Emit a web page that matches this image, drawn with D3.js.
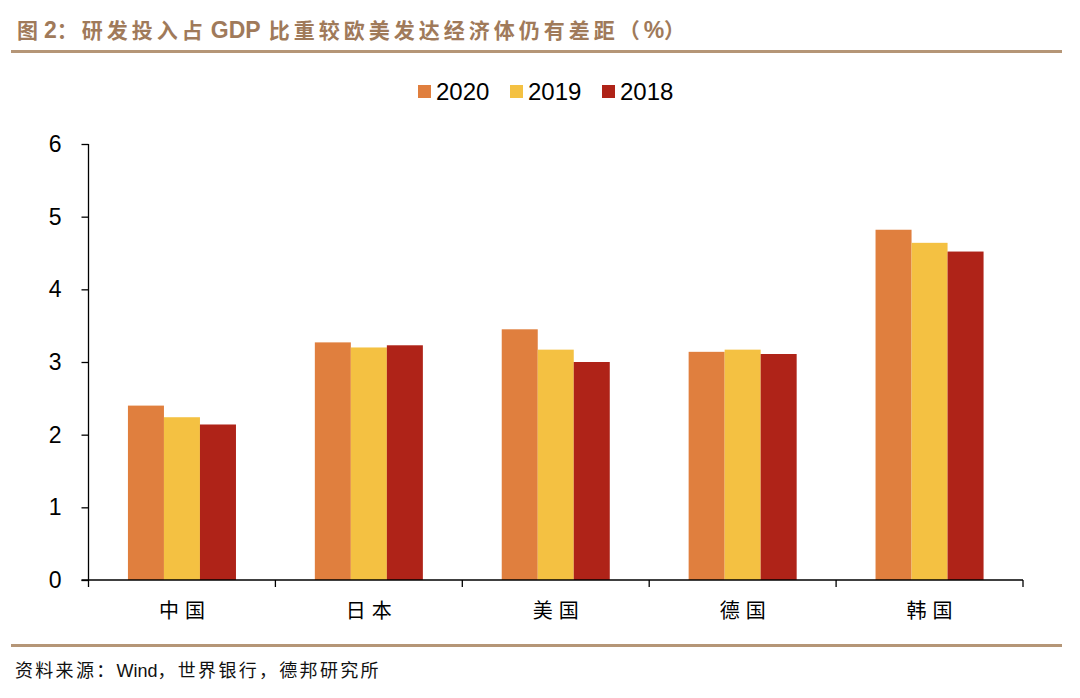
<!DOCTYPE html>
<html><head><meta charset="utf-8">
<script src="https://cdn.jsdelivr.net/npm/d3@7"></script>
<style>body{margin:0;background:#fff}svg{display:block}</style>
</head><body><svg id="c" width="1080" height="698"></svg>
<script>
const categories = ["中国","日本","美国","德国","韩国"];
const seriesNames = ["2020","2019","2018"];
const v2020 = [2.40, 3.27, 3.45, 3.14, 4.82];
const v2019 = [2.24, 3.20, 3.17, 3.17, 4.64];
const v2018 = [2.14, 3.23, 3.00, 3.11, 4.52];
const yTicks = [0,1,2,3,4,5,6];
const colors = ["#E07F3E","#F4C142","#AF2318"];
const series = [v2020, v2019, v2018];

(function(){
const svg = d3.select("#c");
const cjk = "'Noto Sans CJK SC', sans-serif";
const lat = "'Liberation Sans', Arial, sans-serif";

function segText(x, yy, segs, fill, weight){
  const t = svg.append("text").attr("x",x).attr("y",yy).attr("fill",fill).attr("font-weight",weight);
  segs.forEach(s=>{
    t.append("tspan").attr("font-family", s.l ? lat : cjk).attr("font-size", s.fs)
      .attr("letter-spacing", s.ls).attr("dx", s.dx||0).text(s.t);
  });
}
// title
segText(17, 38, [
  {t:"图", fs:21, ls:4},
  {t:"2", fs:23, ls:0, l:1, dx:2},
  {t:"：研发投入占", fs:21, ls:4},
  {t:"GDP", fs:23, ls:0, l:1, dx:4},
  {t:"比重较欧美发达经济体仍有差距（", fs:21, ls:4, dx:8},
  {t:"%", fs:23, ls:0, l:1},
  {t:"）", fs:21, ls:4}
], "#A07A5A", "bold");
svg.append("rect").attr("x",11).attr("y",50).attr("width",1051).attr("height",3).attr("fill","#B59677");
svg.append("rect").attr("x",11).attr("y",644).attr("width",1051).attr("height",3).attr("fill","#B59677");
segText(15, 677, [
  {t:"资料来源：", fs:18, ls:2.3},
  {t:"Wind", fs:18, ls:0, l:1},
  {t:"，世界银行，德邦研究所", fs:18, ls:2.3}
], "#111", "normal");

const pL = 88.5, pR = 1023, pT = 144, pB = 580;
const y = d3.scaleLinear().domain([0,6]).range([pB, pT]);
const x0 = d3.scaleBand().domain(categories).range([pL,pR]).paddingInner(0.422).paddingOuter(0.211);
const x1 = d3.scaleBand().domain(seriesNames).range([0, x0.bandwidth()]);

// bars
const g = svg.append("g");
seriesNames.forEach((s,si)=>{
  g.selectAll(".b"+si).data(categories).enter().append("rect")
    .attr("x", c=> x0(c)+x1(s))
    .attr("y", (c,i)=> y(series[si][i]))
    .attr("width", x1.bandwidth())
    .attr("height", (c,i)=> pB - y(series[si][i]))
    .attr("fill", colors[si]);
});

// y axis
const ya = svg.append("g").attr("transform",`translate(${pL},0)`)
  .call(d3.axisLeft(y).tickValues(yTicks).tickSize(7).tickPadding(20).tickFormat(d3.format("d")));
ya.select(".domain").attr("stroke","#000").attr("stroke-width",1.3).attr("d",`M0,${pT}V${pB}`);
ya.selectAll(".tick line").attr("stroke","#000").attr("stroke-width",1.3);
ya.selectAll(".tick text").attr("font-family",lat).attr("font-size",23).attr("fill","#000");

// x axis
const step = x0.step();
const bounds = d3.range(categories.length+1).map(i=> pL + i*step);
svg.append("line").attr("x1",pL-7).attr("x2",pR).attr("y1",pB).attr("y2",pB)
  .attr("stroke","#000").attr("stroke-width",1.3);
svg.selectAll(".xt").data(bounds).enter().append("line")
  .attr("x1",d=>d).attr("x2",d=>d).attr("y1",pB).attr("y2",pB+7)
  .attr("stroke","#000").attr("stroke-width",1.3);
svg.selectAll(".xl").data(categories).enter().append("text")
  .attr("x",c=> x0(c)+x0.bandwidth()/2 + 3).attr("y",pB+38)
  .attr("text-anchor","middle").attr("font-family",cjk).attr("font-size",20)
  .attr("letter-spacing",6).attr("fill","#000").text(c=>c);

// legend
const legX = [418, 510, 602];
seriesNames.forEach((s,i)=>{
  svg.append("rect").attr("x",legX[i]).attr("y",85).attr("width",13).attr("height",13).attr("fill",colors[i]);
  svg.append("text").attr("x",legX[i]+18).attr("y",100).attr("font-family",lat).attr("font-size",24)
    .attr("fill","#000").text(s);
});
})();
</script></body></html>
